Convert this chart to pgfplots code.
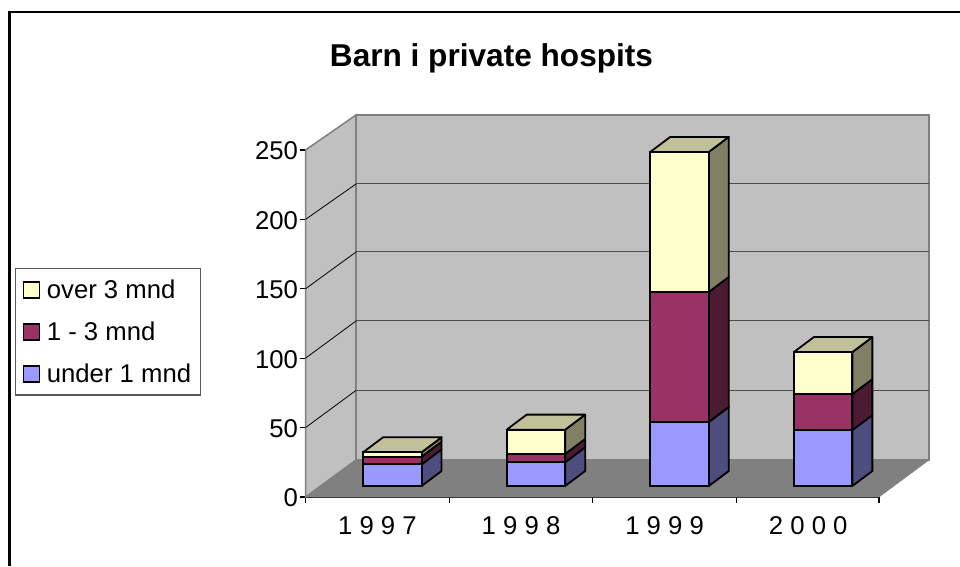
\documentclass[border=0pt]{standalone}
\usepackage{fontspec}
\setmainfont{Liberation Sans}
\usepackage{pgfplots}
\usepackage{pgfplotstable}
\pgfplotsset{compat=1.18}
\definecolor{wall}{HTML}{C0C0C0}
\definecolor{walledge}{HTML}{808080}
\definecolor{floorc}{HTML}{808080}
\definecolor{gridc}{HTML}{4D4D4D}
\definecolor{bluef}{HTML}{9999FF}
\definecolor{blues}{HTML}{4D4D80}
\definecolor{redf}{HTML}{993366}
\definecolor{reds}{HTML}{4D1A33}
\definecolor{yelf}{HTML}{FFFFCC}
\definecolor{yels}{HTML}{808066}
\definecolor{yelt}{HTML}{C0C09A}
\pgfplotstableread{
c under mid over
0 15.6 5.5 3.2
1 17.1 6.0 17.5
2 46.1 93.7 100.9
3 40.3 25.9 30.3
}\bars
\newcommand\bw{0.4074}
\newcommand\dx{0.139}
\newcommand\dy{10.81}
% side face: category, base, top, colour
\newcommand\sideface[4]{%
  \pgfmathsetmacro\xr{#1+\bw/2}\pgfmathsetmacro\xd{\xr+\dx}%
  \pgfmathsetmacro\yb{#2+\dy}\pgfmathsetmacro\yt{#3+\dy}%
  \addplot[fill=#4,draw=black,line width=1.8pt,line join=round]
    coordinates {(\xr,#2)(\xd,\yb)(\xd,\yt)(\xr,#3)} --cycle;}
% top face: category, top
\newcommand\topface[2]{%
  \pgfmathsetmacro\xl{#1-\bw/2}\pgfmathsetmacro\xr{#1+\bw/2}%
  \pgfmathsetmacro\xe{\xl+\dx}\pgfmathsetmacro\xd{\xr+\dx}\pgfmathsetmacro\yt{#2+\dy}%
  \addplot[fill=yelt,draw=black,line width=1.8pt,line join=round]
    coordinates {(\xl,#2)(\xr,#2)(\xd,\yt)(\xe,\yt)} --cycle;}
\newcommand\bigfont{\fontsize{25.7}{30}\selectfont}
\pgfplotsset{common/.style={
  at={(305.5pt,69pt)},anchor=south west,
  scale only axis,width=573.5pt,height=347pt,
  xmin=-0.605,xmax=3.389,ymin=-7.925,ymax=242.075,clip=false}}
\begin{document}
\begin{tikzpicture}
\path[use as bounding box] (0,0) rectangle (960pt,566pt);
\fill[white] (0,0) rectangle (960pt,566pt);
\draw[black,line width=2.6pt] (9.6pt,0) -- (9.6pt,554pt) -- (960pt,554pt);
\begin{axis}[common,
  axis x line*=bottom,axis y line*=left,
  axis line style={black,line width=1.2pt,-},
  tick align=outside,major tick length=6pt,
  xtick={-0.605,0.395,1.395,2.395,3.389},
  xticklabels={},
  extra x ticks={-0.104,0.896,1.896,2.896},
  extra x tick labels={1 9 9 7,1 9 9 8,1 9 9 9,2 0 0 0},
  extra x tick style={major tick length=0pt},
  ytick={-7.925,42.075,92.075,142.075,192.075,242.075},
  yticklabels={0,50,100,150,200,250},
  tick style={draw=black,line width=1.1pt},
  tick label style={font=\bigfont,black},
  xticklabel style={yshift=-16pt},
  yticklabel style={xshift=2pt,yshift=-1pt},
  title={\textbf{Barn i private hospits}},
  title style={at={(0.3243,1.2709)},anchor=center,yshift=-8pt,font=\fontsize{31.6}{36}\selectfont},
]
% walls and floor
\addplot[fill=wall,draw=walledge,line width=1.5pt] coordinates {(-0.605,-7.925)(-0.253,18.73)(-0.253,267.3)(-0.605,242.075)} --cycle;
\addplot[fill=wall,draw=walledge,line width=1.5pt] coordinates {(-0.253,18.73)(3.737,18.73)(3.737,267.3)(-0.253,267.3)} --cycle;
\addplot[fill=floorc,draw=floorc,line width=0.5pt] coordinates {(-0.605,-7.925)(3.389,-7.925)(3.737,18.73)(-0.253,18.73)} --cycle;
% gridlines: back wall
\addplot[gridc,line width=1pt] coordinates {(-0.253,68.9)(3.737,68.9)};
\addplot[gridc,line width=1pt] coordinates {(-0.253,118.9)(3.737,118.9)};
\addplot[gridc,line width=1pt] coordinates {(-0.253,168.6)(3.737,168.6)};
\addplot[gridc,line width=1pt] coordinates {(-0.253,217.6)(3.737,217.6)};
% gridlines: side wall
\addplot[black,line width=0.8pt] coordinates {(-0.605,42.075)(-0.253,68.9)};
\addplot[black,line width=0.8pt] coordinates {(-0.605,92.075)(-0.253,118.9)};
\addplot[black,line width=0.8pt] coordinates {(-0.605,142.075)(-0.253,168.6)};
\addplot[black,line width=0.8pt] coordinates {(-0.605,192.075)(-0.253,217.6)};
% side and top faces of the bars
\sideface{0}{0}{15.6}{blues}\sideface{0}{15.6}{21.1}{reds}\sideface{0}{21.1}{24.3}{yels}\topface{0}{24.3}
\sideface{1}{0}{17.1}{blues}\sideface{1}{17.1}{23.1}{reds}\sideface{1}{23.1}{40.6}{yels}\topface{1}{40.6}
\sideface{2}{0}{46.1}{blues}\sideface{2}{46.1}{139.8}{reds}\sideface{2}{139.8}{240.7}{yels}\topface{2}{240.7}
\sideface{3}{0}{40.3}{blues}\sideface{3}{40.3}{66.2}{reds}\sideface{3}{66.2}{96.5}{yels}\topface{3}{96.5}
\end{axis}
\begin{axis}[common,
  hide axis,
  ybar stacked,bar width=0.4074,
  legend style={at={(-0.5065,0.660)},anchor=north west,draw=black!65,line width=1.3pt,
    font=\bigfont,row sep=18pt,inner xsep=7pt,inner ysep=9pt,
    cells={anchor=west},
    /tikz/every odd column/.append style={column sep=4.5pt}},
  reverse legend,
  legend image code/.code={\draw[#1,draw=black,line width=1.7pt] (1.5pt,-8pt) rectangle (17.5pt,8pt);},
]
\addplot[fill=bluef,draw=black,line width=1.8pt] table[x=c,y=under] {\bars};
\addplot[fill=redf,draw=black,line width=1.8pt] table[x=c,y=mid] {\bars};
\addplot[fill=yelf,draw=black,line width=1.8pt] table[x=c,y=over] {\bars};
\legend{under 1 mnd,1 - 3 mnd,over 3 mnd}
\end{axis}
\end{tikzpicture}
\end{document}
